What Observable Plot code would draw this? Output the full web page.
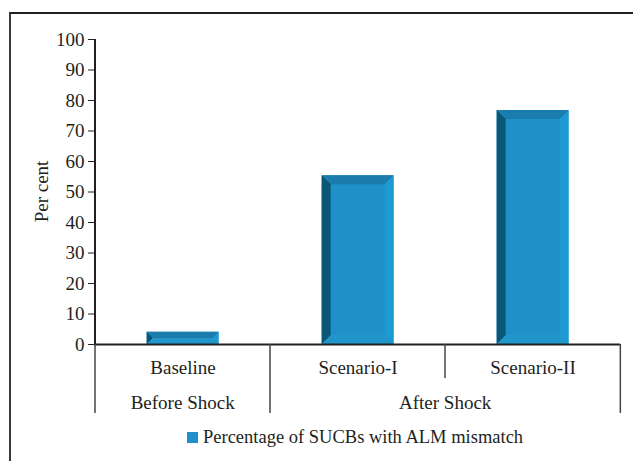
<!DOCTYPE html>
<html>
<head>
<meta charset="utf-8">
<script src="https://cdn.jsdelivr.net/npm/d3@7"></script>
<script src="https://cdn.jsdelivr.net/npm/@observablehq/plot@0.6"></script>
<style>
  html, body { margin: 0; padding: 0; background: #fff; overflow: hidden; }
  #page { position: relative; width: 633px; height: 461px; }
  #frame { position: absolute; left: 9px; top: 12px; width: 640px; height: 470px;
           border-top: 2px solid #231f20; border-left: 2px solid #3a3a3a; }
  #chart { position: absolute; left: 0; top: 0; }
  #legend { position: absolute; left: 0; top: 427px; width: 633px; text-align: left; white-space: nowrap;
            font-family: "Liberation Serif", serif; font-size: 18.5px; color: #231f20; }
  #legend .sw { display: inline-block; width: 11px; height: 11px; background: #1f91c8;
                margin-left: 187px; margin-right: 5px; vertical-align: 0px; }
</style>
</head>
<body>
<div id="page">
  <div id="chart"></div>
  <div id="frame"></div>
  <div id="legend"><span class="sw"></span><span id="legtext"></span></div>
</div>
<script>
// ---- data ----
const categories = ["Baseline", "Scenario-I", "Scenario-II"];
const groups = ["Before Shock", "After Shock", "After Shock"];
const values = [4.0, 55.3, 76.7];
const seriesName = "Percentage of SUCBs with ALM mismatch";
const yTicks = [0, 10, 20, 30, 40, 50, 60, 70, 80, 90, 100];
const yLabel = "Per cent";

const data = categories.map((c, i) => ({category: c, group: groups[i], value: values[i]}));

const W = 633, H = 420;
const barWidth = 72;
const bandW = (W - 94 - 13) / categories.length;
const inset = (bandW - barWidth) / 2;

const colMain = "#1f91c8", colTop = "#1a7dae", colLeft = "#0a5676", colRight = "#1d9ad2", colBottom = "#2196cb";
const ink = "#231f20";
const fontSize = "19px";

// bevel overlay drawn from the scales
function bevels(index, scales) {
  const x = scales.x, y = scales.y;
  const g = d3.create("svg:g");
  data.forEach(d => {
    const bx0 = x(d.category) + inset, bx1 = x(d.category) + bandW - inset;
    const y0 = y(d.value), y1 = y(0);
    const b = Math.min(9, (y1 - y0) / 2, (bx1 - bx0) / 2);
    const polys = [
      [colTop, [[bx0, y0], [bx1, y0], [bx1 - b, y0 + b], [bx0 + b, y0 + b]]],
      [colBottom, [[bx0, y1], [bx0 + b, y1 - b], [bx1 - b, y1 - b], [bx1, y1]]],
      [colLeft, [[bx0, y0], [bx0 + b, y0 + b], [bx0 + b, y1 - b], [bx0, y1]]],
      [colRight, [[bx1, y0], [bx1, y1], [bx1 - b, y1 - b], [bx1 - b, y0 + b]]]
    ];
    polys.forEach(([c, p]) => g.append("polygon").attr("points", p.map(q => q.join(",")).join(" ")).attr("fill", c));
  });
  return g.node();
}

// category/group dividers, group labels, y axis line and title
function dividers(index, scales) {
  const x = scales.x, y = scales.y;
  const g = d3.create("svg:g");
  const y0 = y(0);
  const xl = x(categories[0]);
  const edges = categories.map((c, i) => ({pos: x(c), major: i === 0 || groups[i] !== groups[i - 1]}));
  edges.push({pos: x(categories[categories.length - 1]) + bandW, major: true});
  edges.forEach(e => {
    g.append("line").attr("x1", e.pos).attr("x2", e.pos).attr("y1", y0).attr("y2", y0 + (e.major ? 69 : 34))
      .attr("stroke", "#444").attr("stroke-width", 1.5);
  });
  const uniq = [...new Set(groups)];
  uniq.forEach(gname => {
    const cs = categories.filter((c, i) => groups[i] === gname);
    const left = x(cs[0]), right = x(cs[cs.length - 1]) + bandW;
    g.append("text").attr("x", (left + right) / 2).attr("y", y0 + 65)
      .attr("text-anchor", "middle").attr("fill", ink).text(gname);
  });
  g.append("line").attr("x1", xl).attr("x2", xl)
    .attr("y1", y(100)).attr("y2", y0).attr("stroke", ink).attr("stroke-width", 2);
  g.append("text").attr("transform", `translate(${xl - 47},${(y(0) + y(100)) / 2}) rotate(-90)`)
    .attr("text-anchor", "middle").attr("fill", ink).text(yLabel);
  return g.node();
}

const chart = Plot.plot({
  width: W,
  height: H,
  marginLeft: 94,
  marginRight: 13,
  marginTop: 39,
  marginBottom: 76,
  style: {fontFamily: "Liberation Serif, serif", fontSize: fontSize, color: ink, background: "transparent"},
  x: {domain: categories, padding: 0, tickSize: 0, tickPadding: 16, label: null},
  y: {domain: [0, 100], ticks: yTicks, tickSize: 6, tickPadding: 4, label: null},
  marks: [
    Plot.barY(data, {x: "category", y: "value", fill: colMain, insetLeft: inset, insetRight: inset}),
    bevels,
    Plot.ruleY([0], {stroke: ink, strokeWidth: 2}),
    dividers
  ]
});
chart.querySelectorAll("text").forEach(t => t.style.fontSize = fontSize);
document.getElementById("chart").appendChild(chart);
document.getElementById("legtext").textContent = seriesName;
</script>
</body>
</html>
